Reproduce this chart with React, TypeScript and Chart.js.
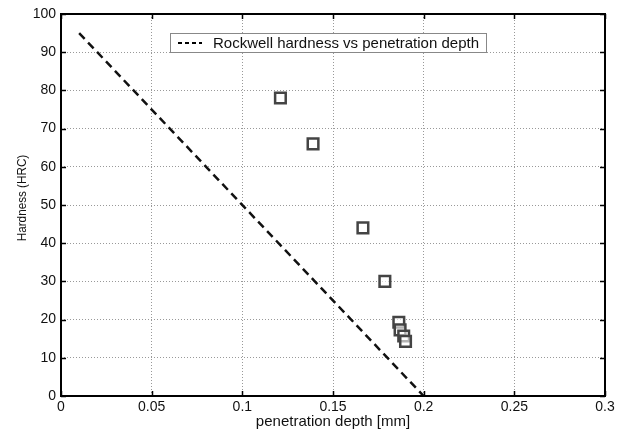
import React, { useEffect, useRef } from "react";
import { Chart, registerables } from "chart.js";

Chart.register(...registerables);

const lineX = [0.01, 0.2];
const lineY = [95, 0];
const pointX = [0.121, 0.139, 0.1665, 0.1786, 0.1863, 0.187, 0.189, 0.19];
const pointY = [78, 66, 44, 30, 19.3, 17.3, 15.7, 14.3];
const xTicks = [0, 0.05, 0.1, 0.15, 0.2, 0.25, 0.3];
const yTicks = [0, 10, 20, 30, 40, 50, 60, 70, 80, 90, 100];
const legendLabel = "Rockwell hardness vs penetration depth";
const xTitle = "penetration depth [mm]";
const yTitle = "Hardness (HRC)";

const FONT = "'Liberation Sans', Arial, sans-serif";

const framePlugin = {
  id: "frameLegend",
  afterDatasetsDraw(chart: any) {
    const { ctx, chartArea: a, scales } = chart;
    const xs = scales.x;
    const ys = scales.y;
    ctx.save();
    ctx.strokeStyle = "#000";
    ctx.lineWidth = 1.5;
    ctx.setLineDash([]);
    xTicks.forEach((t) => {
      const px = Math.round(xs.getPixelForValue(t)) + 0.5;
      ctx.beginPath();
      ctx.moveTo(px, a.bottom);
      ctx.lineTo(px, a.bottom - 5);
      ctx.moveTo(px, a.top);
      ctx.lineTo(px, a.top + 5);
      ctx.stroke();
    });
    yTicks.forEach((t) => {
      const py = Math.round(ys.getPixelForValue(t)) + 0.5;
      ctx.beginPath();
      ctx.moveTo(a.left, py);
      ctx.lineTo(a.left + 5, py);
      ctx.moveTo(a.right, py);
      ctx.lineTo(a.right - 5, py);
      ctx.stroke();
    });
    ctx.lineWidth = 2;
    ctx.strokeRect(a.left, a.top, a.right - a.left, a.bottom - a.top);
    // legend
    const lx = 170, ly = 33, lw = 316, lh = 19;
    ctx.fillStyle = "#fff";
    ctx.fillRect(lx, ly, lw, lh);
    ctx.strokeStyle = "#888";
    ctx.lineWidth = 1;
    ctx.strokeRect(lx + 0.5, ly + 0.5, lw, lh);
    ctx.strokeStyle = "#000";
    ctx.lineWidth = 2;
    ctx.setLineDash([4, 3]);
    ctx.beginPath();
    ctx.moveTo(178, ly + 10);
    ctx.lineTo(202, ly + 10);
    ctx.stroke();
    ctx.setLineDash([]);
    ctx.fillStyle = "#111";
    ctx.font = `15px ${FONT}`;
    ctx.textBaseline = "middle";
    ctx.textAlign = "left";
    ctx.fillText(legendLabel, 213, ly + 10.5);
    // y title
    ctx.translate(22, 198);
    ctx.rotate(-Math.PI / 2);
    ctx.scale(0.9, 1);
    ctx.font = `13px ${FONT}`;
    ctx.textAlign = "center";
    ctx.fillText(yTitle, 0, 0);
    ctx.restore();
  },
};

export default function App() {
  const ref = useRef<HTMLCanvasElement>(null);
  useEffect(() => {
    document.body.style.margin = "0";
    const canvas = ref.current!;
    const chart = new Chart(canvas, {
      type: "scatter",
      data: {
        datasets: [
          {
            label: legendLabel,
            data: lineX.map((x, i) => ({ x, y: lineY[i] })),
            showLine: true,
            borderColor: "#111",
            borderWidth: 2.5,
            borderDash: [8, 5],
            pointRadius: 0,
            fill: false,
          },
          {
            label: "data",
            data: pointX.map((x, i) => ({ x, y: pointY[i] })),
            showLine: false,
            pointStyle: "rect",
            pointRadius: 7.5,
            pointBorderWidth: 2.5,
            pointBorderColor: "#444",
            pointBackgroundColor: "rgba(255,255,255,0.6)",
          },
        ],
      },
      options: {
        responsive: false,
        animation: false,
        layout: { padding: { left: 0, top: 14, right: 25, bottom: 0 } },
        plugins: { legend: { display: false }, tooltip: { enabled: false } },
        scales: {
          x: {
            type: "linear",
            min: 0,
            max: 0.3,
            afterBuildTicks: (s: any) => {
              s.ticks = xTicks.map((v) => ({ value: v }));
            },
            afterFit: (s: any) => {
              s.height = 36;
            },
            ticks: {
              color: "#111",
              font: { family: FONT, size: 14 },
              padding: 3,
              callback: (v: any) => String(v),
            },
            grid: { color: "#999", drawTicks: false, lineWidth: 1 },
            border: { display: false, dash: [1, 2] },
            title: {
              display: true,
              text: xTitle,
              color: "#111",
              font: { family: FONT, size: 15 },
              padding: { top: 0, bottom: 1 },
            },
          },
          y: {
            type: "linear",
            min: 0,
            max: 100,
            afterBuildTicks: (s: any) => {
              s.ticks = yTicks.map((v) => ({ value: v }));
            },
            afterFit: (s: any) => {
              s.width = 61;
            },
            ticks: {
              color: "#111",
              font: { family: FONT, size: 14 },
              padding: 5,
            },
            grid: { color: "#999", drawTicks: false, lineWidth: 1 },
            border: { display: false, dash: [1, 2] },
            title: { display: false },
          },
        },
      },
      plugins: [framePlugin],
    });
    return () => chart.destroy();
  }, []);
  return <canvas ref={ref} width={630} height={432} style={{ display: "block" }} />;
}
